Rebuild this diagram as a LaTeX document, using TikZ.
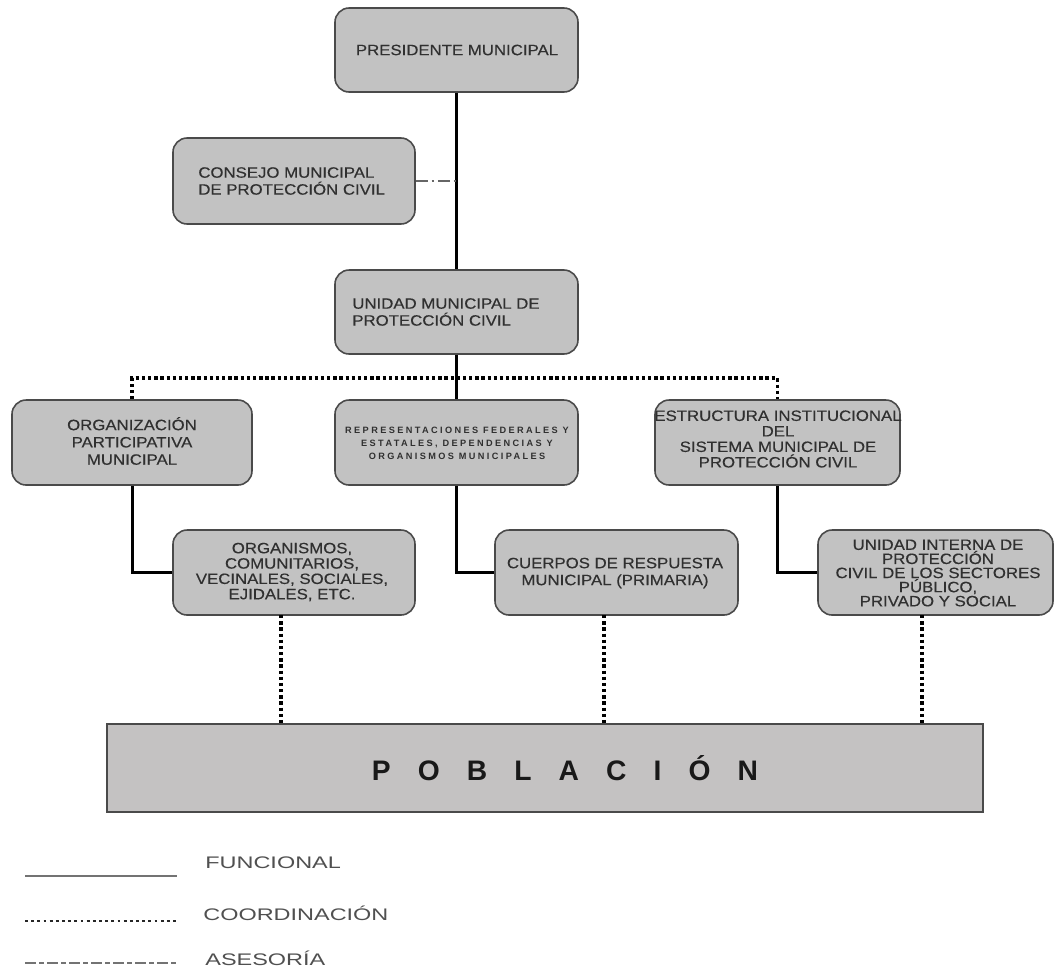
\documentclass[tikz,border=0pt]{standalone}
\usepackage{fontspec}
\setmainfont{Liberation Sans}
\newfontfamily\boxfont{Liberation Sans}[FakeStretch=1.12,FakeBold=0.35]
\newfontfamily\legfont{Liberation Sans}[FakeStretch=1.4]
\newfontfamily\pobfont{Liberation Sans}[LetterSpace=96]
\newfontfamily\repfont{Liberation Sans}[LetterSpace=26]
\usetikzlibrary{fit}
\definecolor{boxfill}{HTML}{C2C2C2}
\definecolor{pobfill}{HTML}{C4C2C2}
\definecolor{boxline}{HTML}{4A4A4A}
\definecolor{txt}{HTML}{303030}
\definecolor{legtxt}{HTML}{505050}
\begin{document}
\begin{tikzpicture}[x=0.567pt,y=-0.567pt,
  box/.style={draw=boxline,line width=0.9pt,fill=boxfill,rounded corners=8pt,inner sep=0pt},
  pobbox/.style={draw=boxline,line width=1pt,fill=pobfill,inner sep=0pt},
  lbl/.style={text=txt,font=\boxfont\fontsize{8.5}{9.6}\selectfont,align=center,inner sep=0pt},
  legtext/.style={text=legtxt,font=\legfont\fontsize{9.5}{11}\selectfont,anchor=west,inner sep=0pt},
  func/.style={line width=1.7pt,black},
  coord/.style={line width=2pt,black,dash pattern=on 1.9pt off 1.6pt},
  ases/.style={line width=0.8pt,black!60,dash pattern=on 7pt off 2pt on 1.5pt off 2pt},
]
\fill[white] (0,0) rectangle (1055,972);
\useasboundingbox (0,0) rectangle (1055,972);

% boxes
\node[box,fit={(335,8)(578,92)}] (pres) {};
\node[box,fit={(173,138)(415,224)}] (cons) {};
\node[box,fit={(335,270)(578,354)}] (umpc) {};
\node[box,fit={(12,400)(252,485)}] (org) {};
\node[box,fit={(335,400)(578,485)}] (rep) {};
\node[box,fit={(655,400)(900,485)}] (est) {};
\node[box,fit={(173,530)(415,615)}] (orgs) {};
\node[box,fit={(495,530)(738,615)}] (cuer) {};
\node[box,fit={(818,530)(1053,615)}] (uni) {};
\node[pobbox,fit={(107,724)(983,812)}] (pob) {};

% labels
\node[lbl] (tpres) at (457,50) {PRESIDENTE MUNICIPAL};
\node[lbl,align=left,anchor=west] (tcons) at (198,181) {CONSEJO MUNICIPAL\\DE PROTECCIÓN CIVIL};
\node[lbl,align=left,anchor=west] (tumpc) at (352,312) {UNIDAD MUNICIPAL DE\\PROTECCIÓN CIVIL};
\node[lbl,font=\boxfont\fontsize{8.5}{9.8}\selectfont] (torg) at (132,441) {ORGANIZACIÓN\\PARTICIPATIVA\\MUNICIPAL};
\node[lbl,font=\repfont\bfseries\fontsize{5.2}{7.4}\selectfont] (trep) at (457,443) {REPRESENTACIONES FEDERALES Y\\ESTATALES, DEPENDENCIAS Y\\ORGANISMOS MUNICIPALES};
\node[lbl,font=\boxfont\fontsize{8.5}{8.8}\selectfont] (test) at (778,439) {ESTRUCTURA INSTITUCIONAL\\DEL\\SISTEMA MUNICIPAL DE\\PROTECCIÓN CIVIL};
\node[lbl,font=\boxfont\fontsize{8.5}{8.7}\selectfont] (torgs) at (292,572) {ORGANISMOS,\\COMUNITARIOS,\\VECINALES, SOCIALES,\\EJIDALES, ETC.};
\node[lbl] (tcuer) at (615,573) {CUERPOS DE RESPUESTA\\MUNICIPAL (PRIMARIA)};
\node[lbl,font=\boxfont\fontsize{8.5}{8}\selectfont] (tuni) at (938,573) {UNIDAD INTERNA DE\\PROTECCIÓN\\CIVIL DE LOS SECTORES\\PÚBLICO,\\PRIVADO Y SOCIAL};
\node[text=black!90,font=\pobfont\bfseries\fontsize{16}{19}\selectfont,inner sep=0pt] (tpob) at (565,768) {POBLACIÓN};

% functional connectors
\draw[func] (pres.south) -- (umpc.north);
\draw[func] (umpc.south) -- (rep.north);
\draw[func] (org.south) |- (orgs.west);
\draw[func] (rep.south) |- (cuer.west);
\draw[func] (est.south) |- (uni.west);

% advisory
\coordinate (cj) at (457,181);
\draw[ases] (cons.east) -- (cj);

% coordination
\draw[coord] (org.north) -- ++(0,-21) -| (est.north);
\coordinate (d1) at (281,615);
\coordinate (d2) at (604,615);
\coordinate (d3) at (922,615);
\draw[coord] (d1) -- (d1 |- pob.north);
\draw[coord] (d2) -- (d2 |- pob.north);
\draw[coord] (d3) -- (d3 |- pob.north);

% legend
\coordinate (l1a) at (25,876); \coordinate (l1b) at (177,876);
\coordinate (l2a) at (25,921); \coordinate (l2b) at (177,921);
\coordinate (l3a) at (25,963); \coordinate (l3b) at (177,963);
\draw[black!55,line width=1pt] (l1a) -- (l1b);
\draw[line width=1.6pt,black!85,dash pattern=on 1.6pt off 1.9pt] (l2a) -- (l2b);
\draw[line width=1pt,black!55,dash pattern=on 6pt off 2pt on 2.5pt off 2pt] (l3a) -- (l3b);
\node[legtext] (lf) at (205,863) {FUNCIONAL};
\node[legtext] (lc) at (203,913) {COORDINACIÓN};
\node[legtext] (la) at (205,958) {ASESORÍA};
\end{tikzpicture}
\end{document}
